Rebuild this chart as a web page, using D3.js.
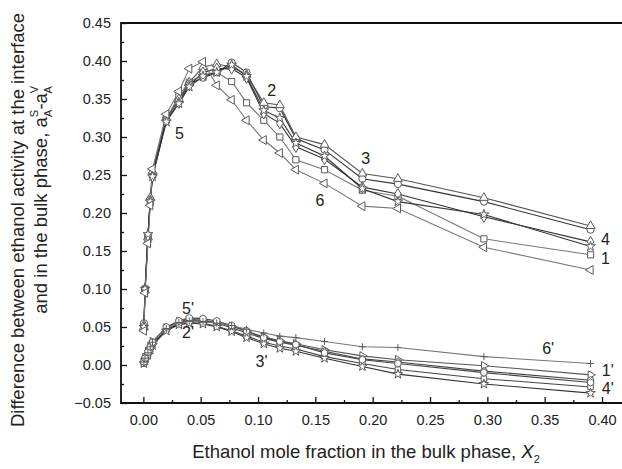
<!DOCTYPE html>
<html>
<head>
<meta charset="utf-8">
<script src="https://cdn.jsdelivr.net/npm/d3@7"></script>
<style>
  body { margin: 0; background: #fff; }
  text { font-family: "Liberation Sans", Arial, sans-serif; fill: #222; }
  .tick-label { font-size: 14.5px; }
  .title { font-size: 18.5px; }
  .curve-label { font-size: 16px; }
</style>
</head>
<body>
<svg id="chart" width="622" height="469"></svg>
<script>
// ethanol mole fraction (same grid for every curve)
const xVals = [0.0005, 0.0015, 0.004, 0.006, 0.008, 0.02, 0.031, 0.04, 0.052, 0.064,
               0.077, 0.09, 0.105, 0.119, 0.133, 0.158, 0.191, 0.222, 0.297, 0.39];

// upper curves 1..6
const s1 = [0.050, 0.100, 0.165, 0.215, 0.250, 0.322, 0.355, 0.372, 0.382, 0.385, 0.373, 0.345, 0.322, 0.300, 0.270, 0.257, 0.230, 0.222, 0.166, 0.145];
const s2 = [0.055, 0.100, 0.170, 0.218, 0.250, 0.325, 0.348, 0.370, 0.378, 0.385, 0.398, 0.385, 0.340, 0.338, 0.298, 0.283, 0.245, 0.238, 0.215, 0.178];
const s3 = [0.050, 0.098, 0.168, 0.220, 0.255, 0.325, 0.350, 0.372, 0.392, 0.396, 0.392, 0.382, 0.345, 0.342, 0.300, 0.290, 0.252, 0.245, 0.220, 0.183];
const s4 = [0.052, 0.100, 0.170, 0.216, 0.248, 0.322, 0.345, 0.368, 0.385, 0.390, 0.390, 0.378, 0.331, 0.318, 0.287, 0.271, 0.234, 0.225, 0.195, 0.162];
const s5 = [0.050, 0.100, 0.172, 0.215, 0.248, 0.320, 0.344, 0.366, 0.380, 0.385, 0.395, 0.380, 0.335, 0.325, 0.292, 0.275, 0.232, 0.215, 0.198, 0.156];
const s6 = [0.045, 0.095, 0.160, 0.210, 0.258, 0.330, 0.360, 0.390, 0.399, 0.368, 0.349, 0.322, 0.296, 0.279, 0.257, 0.239, 0.209, 0.206, 0.155, 0.125];

// lower curves 1'..6'
const p1 = [0.005, 0.010, 0.018, 0.025, 0.031, 0.049, 0.057, 0.060, 0.059, 0.056, 0.051, 0.044, 0.037, 0.032, 0.028, 0.020, 0.012, 0.007, -0.001, -0.013];
const p2 = [0.003, 0.008, 0.015, 0.022, 0.028, 0.047, 0.055, 0.058, 0.058, 0.055, 0.049, 0.042, 0.035, 0.030, 0.026, 0.018, 0.008, 0.004, -0.008, -0.020];
const p3 = [0.002, 0.007, 0.014, 0.021, 0.027, 0.046, 0.054, 0.056, 0.055, 0.051, 0.045, 0.038, 0.030, 0.025, 0.021, 0.011, 0.002, -0.006, -0.018, -0.029];
const p4 = [0.002, 0.006, 0.013, 0.020, 0.026, 0.045, 0.053, 0.055, 0.054, 0.050, 0.044, 0.036, 0.028, 0.022, 0.018, 0.009, -0.002, -0.012, -0.025, -0.037];
const p5 = [0.004, 0.009, 0.017, 0.024, 0.030, 0.050, 0.058, 0.062, 0.061, 0.058, 0.052, 0.045, 0.036, 0.031, 0.027, 0.016, 0.007, 0.002, -0.010, -0.023];
const p6 = [0.004, 0.009, 0.016, 0.024, 0.030, 0.048, 0.056, 0.058, 0.057, 0.055, 0.052, 0.047, 0.042, 0.038, 0.036, 0.031, 0.024, 0.023, 0.011, 0.002];

const xTicks = [0, 0.05, 0.1, 0.15, 0.2, 0.25, 0.3, 0.35, 0.4];
const yTicks = [-0.05, 0, 0.05, 0.1, 0.15, 0.2, 0.25, 0.3, 0.35, 0.4, 0.45];

// curve number labels, placed in data units
const labelText = ['2', '5', '3', '6', '4', '1', "5'", "2'", "3'", "6'", "1'", "4'"];
const labelX = [0.112, 0.0314, 0.194, 0.154, 0.403, 0.403, 0.039, 0.039, 0.103, 0.353, 0.405, 0.405];
const labelY = [0.362, 0.305, 0.272, 0.217, 0.1655, 0.1405, 0.0747, 0.0434, 0.0043, 0.022, -0.0075, -0.0300];

const svg = d3.select('svg#chart');

const plotLeft = 121, plotRight = 623, plotTop = 23, plotBottom = 403;

const xScale = d3.scaleLinear()
  .domain([-0.0195, 0.4183])
  .range([plotLeft, plotRight]);

const yScale = d3.scaleLinear()
  .domain([-0.05, 0.45])
  .range([plotBottom, plotTop]);

// marker shapes
const hexagon = {
  draw(ctx, size) {
    const r = Math.sqrt(size / 2.598);
    for (let i = 0; i < 6; i++) {
      const a = Math.PI / 6 + i * Math.PI / 3;
      if (i === 0) ctx.moveTo(r * Math.cos(a), r * Math.sin(a));
      else ctx.lineTo(r * Math.cos(a), r * Math.sin(a));
    }
    ctx.closePath();
  }
};

const series = [
  { vals: s1, shape: d3.symbolSquare, rot: 0, size: 38, line: '#777' },
  { vals: s2, shape: d3.symbolCircle, rot: 0, size: 40, line: '#333' },
  { vals: s3, shape: d3.symbolTriangle, rot: 0, size: 34, line: '#555' },
  { vals: s4, shape: d3.symbolDiamond, rot: 0, size: 36, line: '#333' },
  { vals: s5, shape: d3.symbolStar, rot: 0, size: 30, line: '#333' },
  { vals: s6, shape: d3.symbolTriangle, rot: -90, size: 34, line: '#777' },
  { vals: p1, shape: d3.symbolTriangle, rot: 90, size: 30, line: '#555' },
  { vals: p2, shape: d3.symbolCircle, rot: 0, size: 34, line: '#444' },
  { vals: p3, shape: d3.symbolSquare, rot: 0, size: 30, line: '#444' },
  { vals: p4, shape: d3.symbolStar, rot: 0, size: 28, line: '#333' },
  { vals: p5, shape: hexagon, rot: 0, size: 34, line: '#444' },
  { vals: p6, shape: null, rot: 0, size: 0, line: '#777' }
];

svg.append('clipPath').attr('id', 'plotclip')
  .append('rect')
  .attr('x', plotLeft).attr('y', plotTop - 10)
  .attr('width', plotRight - plotLeft).attr('height', plotBottom - plotTop + 10);

const plot = svg.append('g').attr('clip-path', 'url(#plotclip)');

const line = d3.line()
  .x((d, i) => xScale(xVals[i]))
  .y(d => yScale(d));

series.forEach(s => {
  plot.append('path')
    .datum(s.vals)
    .attr('fill', 'none')
    .attr('stroke', s.line)
    .attr('stroke-width', 1.1)
    .attr('d', line);
});

series.forEach(s => {
  const g = plot.append('g');
  g.selectAll('path')
    .data(s.vals)
    .enter()
    .append('path')
    .attr('transform', (d, i) => `translate(${xScale(xVals[i])},${yScale(d)}) rotate(${s.rot})`)
    .attr('d', s.shape ? d3.symbol(s.shape, s.size)() : 'M-3.5,0H3.5M0,-3.5V3.5')
    .attr('fill', s.shape ? '#fff' : 'none')
    .attr('stroke', '#5a5a5a')
    .attr('stroke-width', 1);
});

// axes with inward ticks
const xAxis = svg.append('g')
  .attr('transform', `translate(0, ${plotBottom})`)
  .call(d3.axisBottom(xScale).tickValues(xTicks).tickSize(-6).tickPadding(12).tickFormat(d3.format('.2f')));

const xMinor = svg.append('g')
  .attr('transform', `translate(0, ${plotBottom})`)
  .call(d3.axisBottom(xScale).tickValues(d3.range(0.025, 0.42, 0.05)).tickSize(-3).tickFormat(''));

const yAxis = svg.append('g')
  .attr('transform', `translate(${plotLeft}, 0)`)
  .call(d3.axisLeft(yScale).tickValues(yTicks).tickSize(-6).tickPadding(10).tickFormat(d3.format('.2f')));

const yMinor = svg.append('g')
  .attr('transform', `translate(${plotLeft}, 0)`)
  .call(d3.axisLeft(yScale).tickValues(d3.range(-0.025, 0.45, 0.05)).tickSize(-3).tickFormat(''));

[xAxis, xMinor, yAxis, yMinor].forEach(a => {
  a.select('.domain').remove();
  a.selectAll('line').attr('stroke', '#111').attr('stroke-width', 1.3);
  a.selectAll('text').attr('class', 'tick-label').attr('font-size', null).attr('font-family', null).attr('fill', '#222');
});

// frame
svg.append('path')
  .attr('d', `M${plotRight + 5},${plotTop}H${plotLeft}V${plotBottom}H${plotRight + 5}`)
  .attr('fill', 'none')
  .attr('stroke', '#111')
  .attr('stroke-width', 1.8);

// curve labels
svg.selectAll('.curve-label')
  .data(labelText)
  .enter()
  .append('text')
  .attr('class', 'curve-label')
  .attr('x', (d, i) => xScale(labelX[i]))
  .attr('y', (d, i) => yScale(labelY[i]))
  .attr('dy', '0.36em')
  .attr('text-anchor', 'middle')
  .text(d => d);

// x title
const xt = svg.append('text')
  .attr('class', 'title')
  .attr('x', 366)
  .attr('y', 458)
  .attr('text-anchor', 'middle');
xt.append('tspan').text('Ethanol mole fraction in the bulk phase, ');
xt.append('tspan').attr('font-style', 'italic').text('X');
xt.append('tspan').attr('font-size', '11px').attr('dy', 5).text('2');

// y title, two rotated lines
svg.append('text')
  .attr('class', 'title')
  .attr('transform', 'translate(24, 220) rotate(-90)')
  .attr('text-anchor', 'middle')
  .text('Difference between ethanol activity at the interface');

const yt = svg.append('text')
  .attr('class', 'title')
  .attr('transform', 'translate(47, 200) rotate(-90)')
  .attr('text-anchor', 'middle');
yt.append('tspan').text('and in the bulk phase, a');
yt.append('tspan').attr('font-size', '11px').attr('dy', -9).text('S');
yt.append('tspan').attr('font-size', '11px').attr('dx', -7).attr('dy', 14).text('A');
yt.append('tspan').attr('dy', -5).text('-a');
yt.append('tspan').attr('font-size', '11px').attr('dy', -9).text('V');
yt.append('tspan').attr('font-size', '11px').attr('dx', -7).attr('dy', 14).text('A');
</script>
</body>
</html>
